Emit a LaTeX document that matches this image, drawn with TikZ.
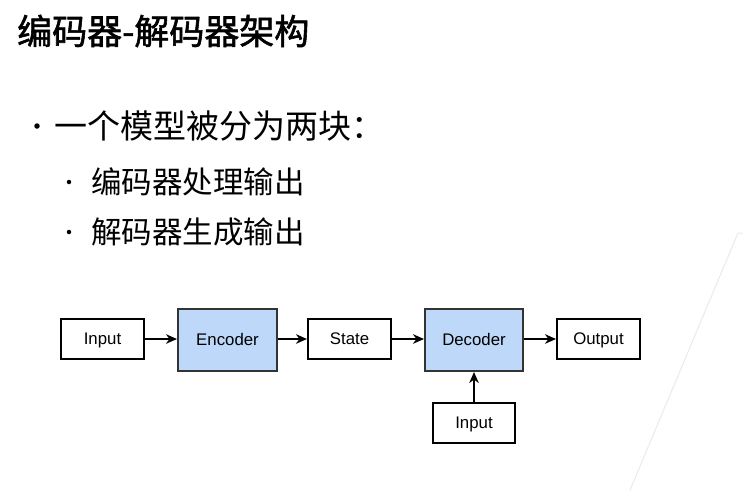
\documentclass[tikz,border=0pt]{standalone}
\usepackage{fontspec}
\setmainfont{Liberation Sans}
\newfontfamily\cjk{Noto Sans CJK SC}
\newfontfamily\cjkhead[FakeBold=1.6]{Noto Sans CJK SC}
\usetikzlibrary{arrows.meta}
\begin{document}
\begin{tikzpicture}[x=1pt,y=-1pt,
  box/.style={draw=black,line width=2pt,fill=white,inner sep=0pt,
    text height=11.5pt,text depth=1.5pt,
    font=\fontsize{16.8}{18}\selectfont},
  bluebox/.style={box,draw=black!80,fill=blockblue},
  link/.style={line width=2.2pt,-{Stealth[length=11pt,width=9.5pt,inset=3.5pt]}},
  heading/.style={anchor=west,inner sep=0pt,font=\cjkhead\fontsize{35}{38}\selectfont},
  item/.style={anchor=west,inner sep=0pt,font=\cjk\fontsize{33}{36}\selectfont},
  subitem/.style={anchor=west,inner sep=0pt,font=\cjk\fontsize{30.5}{34}\selectfont},
  dot/.style={fill=black,circle,inner sep=0pt}]
\definecolor{blockblue}{HTML}{BDD8F8}
\useasboundingbox (0,0) rectangle (743,490);
\fill[white] (0,0) rectangle (743,490);

% faint slide decoration at the right edge
\draw[black!8,line width=1pt] (743,233) -- (738,233) -- (630,490);

% title and bullet list
\node[heading] (title) at (17,31) {编码器-解码器架构};
\node[dot,minimum size=5.5pt] (b1) at (37,126) {};
\node[item] (l1) at (54,126) {一个模型被分为两块：};
\node[dot,minimum size=4.5pt] (b2) at (69,182) {};
\node[subitem] (l2) at (91,182) {编码器处理输出};
\node[dot,minimum size=4.5pt] (b3) at (69,232) {};
\node[subitem] (l3) at (91,232) {解码器生成输出};

% encoder-decoder block diagram
\node[box,minimum width=83pt,minimum height=40pt] (in1) at (102.5,339) {Input};
\node[bluebox,minimum width=99pt,minimum height=62pt] (enc) at (227.5,340) {Encoder};
\node[box,minimum width=83pt,minimum height=40pt] (state) at (349.5,339) {State};
\node[bluebox,minimum width=98pt,minimum height=62pt] (dec) at (474,340) {Decoder};
\node[box,minimum width=83pt,minimum height=40pt] (out) at (598.5,339) {Output};
\node[box,minimum width=82pt,minimum height=40pt] (in2) at (474,423) {Input};

\draw[link] (in1) -- (enc.west |- in1);
\draw[link] (enc.east |- state) -- (state);
\draw[link] (state) -- (dec.west |- state);
\draw[link] (dec.east |- out) -- (out);
\draw[link] (in2) -- (dec);
\end{tikzpicture}
\end{document}
